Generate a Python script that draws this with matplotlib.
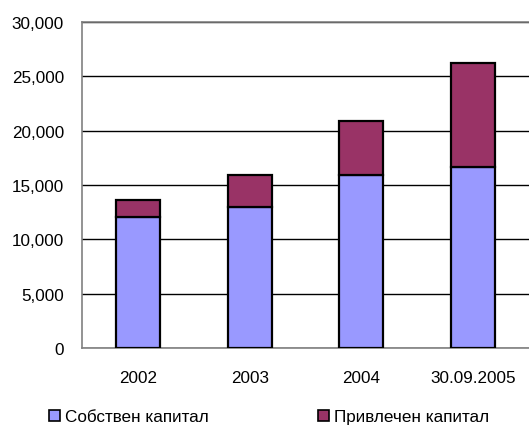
import matplotlib
matplotlib.use("Agg")
import matplotlib.pyplot as plt
from matplotlib.patches import Patch
from matplotlib.ticker import FuncFormatter

categories = ["2002", "2003", "2004", "30.09.2005"]
own_capital = [12100, 13000, 15950, 16700]
borrowed_capital = [1500, 2950, 4950, 9550]
series_names = ["Собствен капитал", "Привлечен капитал"]
colors = ["#9999FF", "#993366"]

plt.rcParams['font.family'] = ['Liberation Sans', 'DejaVu Sans']

fig = plt.figure(figsize=(5.29, 4.31), dpi=100)
W, H = 529, 431
ax = fig.add_axes([82 / W, 1 - 349 / H, (W - 82) / W, (349 - 23) / H])

x = list(range(len(categories)))
w = 0.395
ax.bar(x, own_capital, width=w, color=colors[0], edgecolor="black", linewidth=1.6, zorder=3)
ax.bar(x, borrowed_capital, bottom=own_capital, width=w, color=colors[1],
       edgecolor="black", linewidth=1.6, zorder=3)

ax.set_xlim(-0.5, 3.5)
ax.set_ylim(0, 30000)
ax.set_yticks(range(0, 30001, 5000))
ax.yaxis.set_major_formatter(FuncFormatter(lambda v, p: f"{int(v):,}"))
ax.set_xticks(x)
ax.set_xticklabels(categories)
ax.tick_params(axis="both", length=0, labelsize=12.3, colors="black")
ax.tick_params(axis="y", pad=13)
ax.tick_params(axis="x", pad=16)
ax.grid(axis="y", color="black", linewidth=1.0, zorder=0)
for side in ["left", "top", "bottom"]:
    ax.spines[side].set_color("#808080")
    ax.spines[side].set_linewidth(1.2)
ax.spines["right"].set_visible(False)

handles = [Patch(facecolor=c, edgecolor="black", linewidth=1.2) for c in colors]
fig.legend(handles, series_names, loc="center left", bbox_to_anchor=(42 / W, 1 - 418 / H),
           ncol=2, frameon=False, fontsize=12.3, handlelength=0.65, handleheight=0.65,
           handletextpad=0.3, columnspacing=6.4, borderaxespad=0)

fig.savefig("out.png", dpi=100)
